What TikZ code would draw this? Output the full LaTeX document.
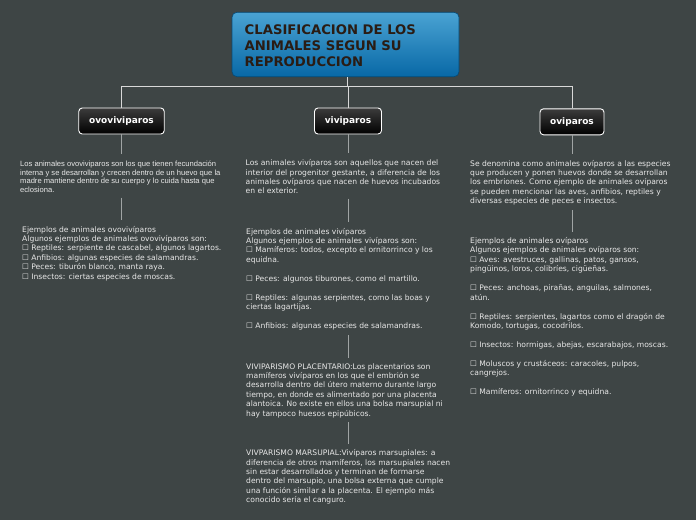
\documentclass[tikz,border=0pt]{standalone}
\usepackage{fontspec}
\newfontfamily\vfont{DejaVu Sans}
\newfontfamily\afont{Liberation Sans}
\definecolor{bg}{HTML}{3E4545}
\definecolor{txt}{HTML}{E8E8E8}
\definecolor{ttop}{HTML}{4AA3D3}
\definecolor{tbot}{HTML}{0868A6}
\definecolor{ttxt}{HTML}{2A1C14}
\definecolor{wire}{HTML}{D8D8D8}
\definecolor{wiretwo}{HTML}{A0A4A4}
\definecolor{boxtop}{HTML}{3C3C3C}
\tikzset{
  body/.style={anchor=base west, inner sep=0pt, align=left, text=txt,
    font=\vfont\fontsize{7.6}{9.45}\selectfont},
  bodya/.style={body, font=\afont\fontsize{7.6}{8.6}\selectfont},
  catbox/.style={draw=white, line width=0.9pt, rounded corners=3.5pt,
    top color=boxtop, bottom color=black, text=white, inner sep=0pt,
    minimum height=26pt, font=\vfont\bfseries\fontsize{9}{11}\selectfont},
  titlebox/.style={draw=tbot!70!black, line width=0.6pt, rounded corners=5pt,
    top color=ttop, bottom color=tbot, inner sep=0pt},
  topwire/.style={draw=wire, line width=1pt},
  lowwire/.style={draw=wiretwo, line width=0.8pt}
}
\begin{document}
\begin{tikzpicture}[x=1pt,y=-1pt]
\fill[bg] (0,0) rectangle (696,520);
\useasboundingbox (0,0) rectangle (696,520);

% title
\node[titlebox, minimum width=227pt, minimum height=64.5pt] (title) at (345.5,44.5) {};
\node[anchor=base west, inner sep=0pt, align=left, text=ttxt,
  font=\vfont\bfseries\fontsize{13.2}{16}\selectfont] (ttext) at (244.5,66)
  {CLASIFICACION DE LOS\\ANIMALES SEGUN SU\\REPRODUCCION};

% category boxes
\node[catbox, minimum width=85.5pt] (ovo) at (121.5,121) {ovoviviparos};
\node[catbox, minimum width=67pt] (viv) at (348,121) {viviparos};
\node[catbox, minimum width=64pt] (ovi) at (572,121.8) {oviparos};

\coordinate (hub) at (347,86);
\draw[topwire] (title.south -| hub) -- (hub);
\draw[topwire] (hub) -| (ovo.north);
\draw[topwire] (hub) -- (viv.north |- hub) -- (viv.north);
\draw[topwire] (hub) -| (ovi.north);

% left column
\node[bodya] (ldesc) at (20,192.3) {Los animales ovoviviparos son los que tienen fecundación\\
interna y se desarrollan y crecen dentro de un huevo que la\\
madre mantiene dentro de su cuerpo y lo cuida hasta que\\
eclosiona.};
\node[body] (lex) at (22,279.3) {Ejemplos de animales ovovivíparos\\
Algunos ejemplos de animales ovovivíparos son:\\
☐ Reptiles: serpiente de cascabel, algunos lagartos.\\
☐ Anfibios: algunas especies de salamandras.\\
☐ Peces: tiburón blanco, manta raya.\\
☐ Insectos: ciertas especies de moscas.};

% middle column
\node[body] (mdesc) at (245.5,193.9) {Los animales vivíparos son aquellos que nacen del\\
interior del progenitor gestante, a diferencia de los\\
animales ovíparos que nacen de huevos incubados\\
en el exterior.};
\node[body] (mex) at (246,328.5) {Ejemplos de animales vivíparos\\
Algunos ejemplos de animales vivíparos son:\\
☐ Mamíferos: todos, excepto el ornitorrinco y los\\
equidna.\\[9.45pt]
☐ Peces: algunos tiburones, como el martillo.\\[9.45pt]
☐ Reptiles: algunas serpientes, como las boas y\\
ciertas lagartijas.\\[9.45pt]
☐ Anfibios: algunas especies de salamandras.};
\node[body] (mplac) at (246,416.3) {VIVIPARISMO PLACENTARIO:Los placentarios son\\
mamíferos vivíparos en los que el embrión se\\
desarrolla dentro del útero materno durante largo\\
tiempo, en donde es alimentado por una placenta\\
alantoica. No existe en ellos una bolsa marsupial ni\\
hay tampoco huesos epipúbicos.};
\node[body] (mmars) at (246,502.8) {VIVPARISMO MARSUPIAL:Vivíparos marsupiales: a\\
diferencia de otros mamíferos, los marsupiales nacen\\
sin estar desarrollados y terminan de formarse\\
dentro del marsupio, una bolsa externa que cumple\\
una función similar a la placenta. El ejemplo más\\
conocido sería el canguro.};

% right column
\node[body] (rdesc) at (470,203.8) {Se denomina como animales ovíparos a las especies\\
que producen y ponen huevos donde se desarrollan\\
los embriones. Como ejemplo de animales ovíparos\\
se pueden mencionar las aves, anfibios, reptiles y\\
diversas especies de peces e insectos.};
\node[body] (rex) at (470,394.7) {Ejemplos de animales ovíparos\\
Algunos ejemplos de animales ovíparos son:\\
☐ Aves: avestruces, gallinas, patos, gansos,\\
pingüinos, loros, colibríes, cigüeñas.\\[9.45pt]
☐ Peces: anchoas, pirañas, anguilas, salmones,\\
atún.\\[9.45pt]
☐ Reptiles: serpientes, lagartos como el dragón de\\
Komodo, tortugas, cocodrilos.\\[9.45pt]
☐ Insectos: hormigas, abejas, escarabajos, moscas.\\[9.45pt]
☐ Moluscos y crustáceos: caracoles, pulpos,\\
cangrejos.\\[9.45pt]
☐ Mamíferos: ornitorrinco y equidna.};

% lower connectors
\draw[lowwire, shorten >=7pt] (ovo.south) -- (ovo.south |- ldesc.north);
\draw[lowwire, shorten <=5pt, shorten >=5.5pt] (ldesc.south -| ovo.south) -- (lex.north -| ovo.south);
\draw[lowwire, shorten >=6pt] (viv.south) -- (viv.south |- mdesc.north);
\draw[lowwire, shorten <=4.5pt, shorten >=5.5pt] (mdesc.south -| viv.south) -- (mex.north -| viv.south);
\draw[lowwire, shorten <=5pt, shorten >=5.5pt] (mex.south -| viv.south) -- (mplac.north -| viv.south);
\draw[lowwire, shorten <=4pt, shorten >=5pt] (mplac.south -| viv.south) -- (mmars.north -| viv.south);
\draw[lowwire, shorten >=6pt] (ovi.south) -- (ovi.south |- rdesc.north);
\draw[lowwire, shorten <=4.5pt, shorten >=5pt] (rdesc.south -| ovi.south) -- (rex.north -| ovi.south);
\end{tikzpicture}
\end{document}
